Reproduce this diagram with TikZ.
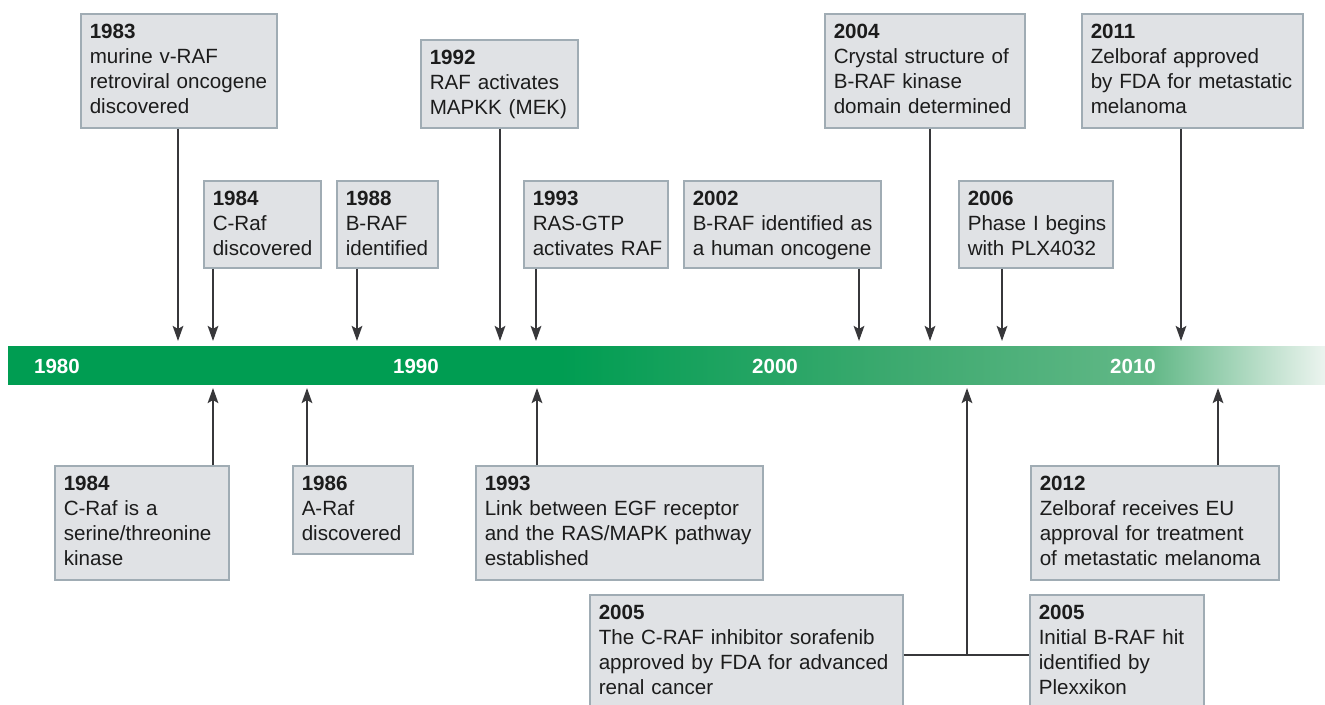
\documentclass[tikz,border=0pt]{standalone}
\usepackage{fontspec}
\setmainfont{Liberation Sans}
\usetikzlibrary{arrows.meta}
\hyphenpenalty=10000
\exhyphenpenalty=10000
\definecolor{gA}{RGB}{0,157,82}
\definecolor{gB}{RGB}{62,170,112}
\definecolor{gC}{RGB}{98,184,135}
\definecolor{gD}{RGB}{236,244,239}
\definecolor{boxfill}{RGB}{224,226,229}
\definecolor{boxline}{RGB}{160,172,180}
\definecolor{arrc}{RGB}{55,55,58}
\definecolor{txt}{RGB}{28,28,28}
\pgfdeclarehorizontalshading{barshade}{100bp}{color(0bp)=(gA); color(46bp)=(gA); color(59bp)=(gB); color(68.4bp)=(gC); color(75bp)=(gD); color(100bp)=(gD)}
\newcommand{\evfont}{\fontsize{20.6}{25}\selectfont}
\newcommand{\yrfont}{\fontsize{20.5}{24}\selectfont\bfseries}
\tikzset{
  evbox/.style={draw=boxline, fill=boxfill, line width=1.5pt, anchor=north west,
    inner xsep=9pt, inner ysep=10pt, align=left, text=txt,
    font=\evfont, text height=14.7pt},
  four/.style={text depth=79.3pt},
  three/.style={text depth=53.3pt},
  threem/.style={text depth=52.3pt},
  arr/.style={draw=arrc, line width=2.4pt, -{Stealth[length=15pt,width=10.5pt,inset=3pt]}},
  link/.style={draw=arrc, line width=2.4pt},
  yr/.style={text=white, font=\yrfont, inner sep=0pt},
  barstyle/.style={shade, shading=barshade, minimum width=1317pt, minimum height=38pt, inner sep=0pt, draw=none}
}
\begin{document}
\begin{tikzpicture}[x=1pt,y=-1pt]
\clip (0,0) rectangle (1325,704);
\fill[white] (0,0) rectangle (1325,704);

% timeline bar
\node[barstyle] (bar) at (666.5,365) {};
\node[yr] (y1980) at (57,366) {1980};
\node[yr] (y1990) at (416,366) {1990};
\node[yr] (y2000) at (775,366) {2000};
\node[yr] (y2010) at (1133,366) {2010};

% top boxes
\node[evbox, four, text width=178pt] (b1983) at (80,13) {\textbf{1983}\\ \mbox{murine v-RAF}\\ \mbox{retroviral oncogene}\\ discovered};
\node[evbox, three, text width=139pt] (b1992) at (420,39) {\textbf{1992}\\ \mbox{RAF activates}\\ \mbox{MAPKK (MEK)}};
\node[evbox, four, text width=182pt] (b2004) at (824,13) {\textbf{2004}\\ \mbox{Crystal structure of}\\ \mbox{B-RAF kinase}\\ \mbox{domain determined}};
\node[evbox, four, text width=203pt] (b2011) at (1081,13) {\textbf{2011}\\ \mbox{Zelboraf approved}\\ \mbox{by FDA for metastatic}\\ melanoma};

% middle boxes
\node[evbox, threem, text width=99pt] (b1984t) at (203,180) {\textbf{1984}\\ C-Raf\\ \mbox{discovered}};
\node[evbox, threem, text width=83pt] (b1988) at (336,180) {\textbf{1988}\\ B-RAF\\ \mbox{identified}};
\node[evbox, threem, text width=126pt] (b1993t) at (523,180) {\textbf{1993}\\ RAS-GTP\\ \mbox{activates RAF}};
\node[evbox, threem, text width=179pt] (b2002) at (683,180) {\textbf{2002}\\ \mbox{B-RAF identified as}\\ \mbox{a human oncogene}};
\node[evbox, threem, text width=136pt] (b2006) at (958,180) {\textbf{2006}\\ \mbox{Phase I begins}\\ \mbox{with PLX4032}};

% bottom boxes
\node[evbox, four, text width=156pt] (b1984b) at (54,465) {\textbf{1984}\\ \mbox{C-Raf is a}\\ \mbox{serine/threonine}\\ kinase};
\node[evbox, three, text width=102pt] (b1986) at (292,465) {\textbf{1986}\\ A-Raf\\ \mbox{discovered}};
\node[evbox, four, text width=269pt] (b1993b) at (475,465) {\textbf{1993}\\ \mbox{Link between EGF receptor}\\ \mbox{and the RAS/MAPK pathway}\\ established};
\node[evbox, four, text width=230pt] (b2012) at (1030,465) {\textbf{2012}\\ \mbox{Zelboraf receives EU}\\ \mbox{approval for treatment}\\ \mbox{of metastatic melanoma}};
\node[evbox, text depth=91.3pt, text width=295pt] (b2005l) at (589,594) {\textbf{2005}\\ \mbox{The C-RAF inhibitor sorafenib}\\ \mbox{approved by FDA for advanced}\\ \mbox{renal cancer}};
\node[evbox, text depth=91.3pt, text width=156pt] (b2005r) at (1029,594) {\textbf{2005}\\ \mbox{Initial B-RAF hit}\\ \mbox{identified by}\\ Plexxikon};

% arrow tip coordinates
\coordinate (t1983) at (178,341);
\coordinate (t1984) at (213,341);
\coordinate (t1988) at (357,341);
\coordinate (t1992) at (500,341);
\coordinate (t1993) at (536,341);
\coordinate (t2002) at (859,341);
\coordinate (t2004) at (930,341);
\coordinate (t2006) at (1002,341);
\coordinate (t2011) at (1181,341);
\coordinate (u1984) at (213,388);
\coordinate (u1986) at (307,388);
\coordinate (u1993) at (537,388);
\coordinate (u2005) at (967,388);
\coordinate (u2012) at (1218,388);
\coordinate (j2005) at (967,655);

% connectors
\draw[arr] (b1983.south -| t1983) -- (t1983);
\draw[arr] (b1984t.south -| t1984) -- (t1984);
\draw[arr] (b1988.south -| t1988) -- (t1988);
\draw[arr] (b1992.south -| t1992) -- (t1992);
\draw[arr] (b1993t.south -| t1993) -- (t1993);
\draw[arr] (b2002.south -| t2002) -- (t2002);
\draw[arr] (b2004.south -| t2004) -- (t2004);
\draw[arr] (b2006.south -| t2006) -- (t2006);
\draw[arr] (b2011.south -| t2011) -- (t2011);
\draw[arr] (b1984b.north -| u1984) -- (u1984);
\draw[arr] (b1986.north -| u1986) -- (u1986);
\draw[arr] (b1993b.north -| u1993) -- (u1993);
\draw[arr] (b2012.north -| u2012) -- (u2012);
\draw[link] (b2005l.east |- j2005) -- (b2005r.west |- j2005);
\draw[arr] (j2005) -- (u2005);
\end{tikzpicture}
\end{document}
